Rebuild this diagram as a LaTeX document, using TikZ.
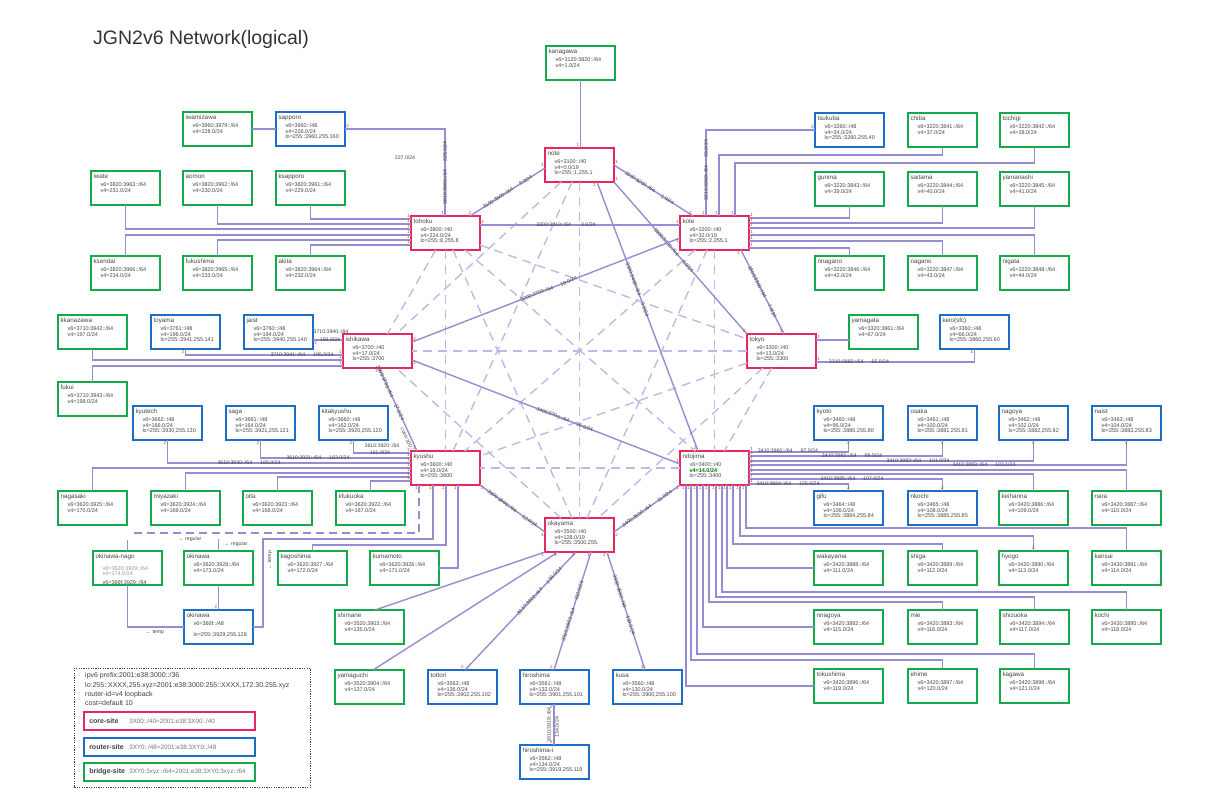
\documentclass[tikz,border=0pt]{standalone}
\usepackage{fontspec}
\setmainfont{Liberation Sans}

\definecolor{corered}{RGB}{232,40,92}
\definecolor{routerblue}{RGB}{30,110,200}
\definecolor{bridgegreen}{RGB}{20,170,75}
\definecolor{linkpurple}{RGB}{150,140,210}
\definecolor{meshpurple}{RGB}{192,184,230}
\definecolor{portred}{RGB}{200,60,60}
\definecolor{txtgray}{RGB}{70,70,70}

% box text: site name, then indented address lines
\newcommand{\sitetxt}[2]{%
  \parbox[t][29pt][t]{64pt}{\fontsize{6.3}{7}\selectfont\strut #1\\[1.3pt]%
  \hspace*{7pt}\parbox[t]{57pt}{\fontsize{5.5}{5.3}\selectfont #2}}}
\newcommand{\keydesc}{\color{black!55}\fontsize{6.3}{7}\selectfont}

\tikzset{
  site/.style={draw, line width=1.5pt, anchor=north west, inner sep=2.5pt, outer sep=0pt, text=txtgray},
  core/.style={site, draw=corered},
  router/.style={site, draw=routerblue},
  bridge/.style={site, draw=bridgegreen},
  link/.style={draw=linkpurple, line width=1.4pt},
  regular/.style={link, dash pattern=on 8pt off 5pt},
  mesh/.style={draw=meshpurple, line width=1.4pt, dash pattern=on 9pt off 6pt},
  lab/.style={font=\fontsize{5.2}{5.2}\selectfont, text=txtgray, inner sep=0.5pt},
  port/.style={font=\fontsize{4.6}{4.6}\selectfont, text=portred, inner sep=0.6pt},
  legtxt/.style={anchor=base west, inner sep=0pt, font=\fontsize{7}{8}\selectfont, text=black!75},
  keybox/.style={draw, line width=1.5pt, anchor=north west, minimum width=171pt, minimum height=18pt,
    text width=160pt, inner xsep=5.5pt, align=left, font=\fontsize{7}{8}\selectfont, text=black!75},
}

\begin{document}
\begin{tikzpicture}[x=1pt, y=-1pt]
\useasboundingbox (0,0) rectangle (1207,795);

\node[anchor=base west, inner sep=0, font=\fontsize{19.5}{20}\selectfont, text=black!80] (title) at (93,44) {JGN2v6 Network(logical)};

% core sites
\node[core] (note)     at (545,148) {\sitetxt{note}{v6=3100::/40\\v4=0.0/19\\lo=255::1,255.1}};
\node[core] (tohoku)   at (411,216) {\sitetxt{tohoku}{v6=3800::/40\\v4=224.0/24\\lo=255::8,255.8}};
\node[core] (kote)     at (680,216) {\sitetxt{kote}{v6=3200::/40\\v4=32.0/19\\lo=255::2,255.1}};
\node[core] (ishikawa) at (343,334) {\sitetxt{ishikawa}{v6=3700::/40\\v4=17.0/24\\lo=255::3700}};
\node[core] (tokyo)    at (747,334) {\sitetxt{tokyo}{v6=3300::/40\\v4=13.0/24\\lo=255::3300}};
\node[core] (kyushu)   at (411,451) {\sitetxt{kyushu}{v6=3600::/40\\v4=16.0/24\\lo=255::3600}};
\node[core] (ndojima)  at (680,451) {\sitetxt{ndojima}{v6=3400::/40\\{\color{green!45!black}\bfseries v4=14.0/24}\\lo=255::3400}};
\node[core] (okayama)  at (545,518) {\sitetxt{okayama}{v6=3500::/40\\v4=128.0/19\\lo=255::3500,255.}};

% router sites
\foreach \nd/\ttl/\px/\py/\vsix/\vfour/\lob in {
    sapporo/sapporo/276/112/3960/226.0/{255::3960,255.160},
    tsukuba/tsukuba/815/113/3260/34.0/{255::3260,255.40},
    toyama/toyama/151/315/3761/196.0/{255::3941,255.141},
    jaist/jaist/244/315/3760/194.0/{255::3940,255.140},
    keio/keio(sfc)/940/315/3360/66.0/{255::3860,255.60},
    kyutech/kyutech/133/406/3662/166.0/{255::3930,255.130},
    saga/saga/226/406/3661/164.0/{255::3921,255.121},
    kitakyushu/kitakyushu/319/406/3660/162.0/{255::3920,255.120},
    kyoto/kyoto/814/406/3460/96.0/{255::3880,255.80},
    osaka/osaka/908/406/3461/100.0/{255::3881,255.81},
    nagoya/nagoya/999/406/3462/102.0/{255::3882,255.82},
    naist/naist/1092/406/3463/104.0/{255::3883,255.83},
    gifu/gifu/814/491/3464/106.0/{255::3884,255.84},
    nkochi/nkochi/908/491/3465/108.0/{255::3885,255.85},
    tottori/tottori/428/670/3563/136.0/{255::3902,255.102},
    hiroshima/hiroshima/520/670/3561/132.0/{255::3901,255.101},
    kusa/kusa/613/670/3560/130.0/{255::3900,255.100},
    hiroshimai/hiroshima-i/520/745/3562/134.0/{255::3919,255.119}}
  \node[router] (\nd) at (\px,\py) {\sitetxt{\ttl}{v6=\vsix::/48\\v4=\vfour/24\\lo=\lob}};
\node[router] (okinawar) at (184,610) {\sitetxt{okinawa}{v6=366f::/48\\[5.3pt]lo=255::3929,255.128}};

% bridge sites
\foreach \nd/\px/\py/\vsix/\vfour in {
    kanagawa/546/46/3120:3820/1.0, iwamizawa/183/112/3960:3979/228.0,
    iwate/91/171/3820:3963/231.0, aomori/183/171/3820:3962/230.0, ksapporo/276/171/3820:3961/229.0,
    ksendai/91/256/3820:3966/234.0, fukushima/183/256/3820:3965/233.0, akita/276/256/3820:3964/232.0,
    chiba/908/113/3220:3841/37.0, tochigi/1000/113/3220:3842/38.0,
    gunma/815/172/3220:3843/39.0, saitama/908/172/3220:3844/40.0, yamanashi/1000/172/3220:3845/41.0,
    nnagano/815/256/3220:3846/42.0, nagano/908/256/3220:3847/43.0, nigata/1000/256/3220:3848/44.0,
    kkanazawa/58/315/3710:3942/197.0, fukui/58/382/3710:3943/198.0, yamagata/849/315/3320:3861/67.0,
    nagasaki/58/491/3620:3925/170.0, miyazaki/151/491/3620:3924/169.0, oita/243/491/3620:3923/168.0,
    kfukuoka/336/491/3620:3922/167.0, okinawa/184/551/3620:3928/173.0, kagoshima/278/551/3620:3927/172.0,
    kumamoto/370/551/3620:3926/171.0, shimane/335/610/3520:3903/135.0, yamaguchi/335/670/3520:3904/137.0,
    keihanna/999/491/3420:3886/109.0, nara/1092/491/3420:3887/110.0,
    wakayama/814/551/3420:3888/111.0, shiga/908/551/3420:3889/112.0, hyogo/999/551/3420:3890/113.0,
    kansai/1092/551/3430:3891/114.0, nnagoya/814/610/3420:3892/115.0, mie/908/610/3420:3893/116.0,
    shizuoka/1000/610/3420:3894/117.0, kochi/1092/610/3430:3895/118.0,
    tokushima/814/669/3420:3896/119.0, ehime/908/669/3420:3897/120.0, kagawa/1000/669/3420:3898/121.0}
  \node[bridge] (\nd) at (\px,\py) {\sitetxt{\nd}{v6=\vsix::/64\\v4=\vfour/24}};
\node[bridge] (okinawanago) at (93,551) {\sitetxt{okinawa-nago}{{\color{black!40}v6=3620:3929::/64}\\{\color{black!40}v4=174.0/24}\\[3pt]v6=366f:3929::/64}};

% logical full mesh between core sites
\foreach \a/\b in {tohoku/tokyo, tohoku/ndojima, tohoku/okayama, tohoku/kyushu, tohoku/ishikawa,
    note/okayama, note/kyushu, note/ishikawa, kote/ndojima, kote/okayama, kote/kyushu,
    tokyo/ndojima, tokyo/okayama, tokyo/kyushu, tokyo/ishikawa, ndojima/kyushu, okayama/ishikawa}
  \draw[mesh] (\a) -- (\b);

% core links
\draw[link] (kanagawa.south) -- (kanagawa.south |- note.north) node[port, at end, anchor=south east]{1};
\draw[link] ([xshift=-10pt]tohoku.north east) node[port, anchor=south]{2} -- ([yshift=-20pt]note.north west)
    node[lab, sloped, pos=.5]{3100:3800::/64\hspace{8pt}9.0/24} node[port, at end, anchor=south east]{1};
\draw[link] ([yshift=-9pt]tohoku.north east) node[port, anchor=south west]{2} -- ([yshift=-9pt]kote.north west) node[port, at end, anchor=south east]{1};
\draw[link] ([yshift=-17pt]note.north east) node[port, anchor=south west]{1} -- ([xshift=13pt]kote.north west)
    node[lab, sloped, pos=.45]{3100:3200::/64\hspace{8pt}1.0/24} node[port, at end, anchor=south east]{2};
\draw[link] (note.south east) node[port, anchor=south west]{1} -- (tokyo.north west)
    node[lab, sloped, pos=.45]{3100:3300::/64\hspace{8pt}5.0/24} node[port, at end, anchor=south east]{2};
\draw[link] ([xshift=52pt]note.south west) node[port, anchor=north east]{1} -- ([xshift=18pt]ndojima.north west)
    node[lab, sloped, pos=.4]{3100:3400::/64\hspace{8pt}3.0/24} node[port, at end, anchor=south east]{2};
\draw[link] ([xshift=-8pt]kote.south east) node[port, anchor=north east]{1} -- ([xshift=37pt]tokyo.north west)
    node[lab, sloped, pos=.5]{3200:3300::/64\hspace{8pt}7.0/24} node[port, at end, anchor=south east]{2};
\draw[link] ([yshift=-22pt]kote.north west) node[port, anchor=north east]{1} -- ([yshift=-8pt]ishikawa.north east)
    node[lab, sloped, pos=.49]{3200:3700::/64\hspace{8pt}19.0/24} node[port, at end, anchor=south west]{2};
\draw[link] ([yshift=-26pt]ishikawa.north east) node[port, anchor=north west]{2} -- ([yshift=-13pt]ndojima.north west)
    node[lab, sloped, pos=.57]{3400:3700::/64\hspace{8pt}16.0/24} node[port, at end, anchor=south east]{1};
\draw[link] ([xshift=36pt]ishikawa.south west) node[port, anchor=north east]{1} -- ([xshift=6pt]kyushu.north west)
    node[lab, sloped, pos=.3]{3600:3700::/64\hspace{8pt}17.0/24} node[lab, sloped, below=1pt, pos=.82]{cost=100}
    node[port, at end, anchor=south east]{2};
\draw[link] (kyushu.south east) node[port, anchor=north west]{2} -- ([yshift=-14pt]okayama.north west)
    node[lab, sloped, pos=.5]{3500:3600::/64\hspace{8pt}12.0/24} node[port, at end, anchor=north east]{1};
\draw[link] ([yshift=-14pt]okayama.north east) node[port, anchor=north west]{2} -- (ndojima.south west)
    node[lab, sloped, pos=.5]{3400:3500::/64\hspace{8pt}11.0/24} node[port, at end, anchor=north east]{1};

% tohoku
\draw[link] (iwamizawa.east) -- (sapporo.west);
\draw[link] (sapporo.east) node[port, anchor=south west]{2} -| ([xshift=34pt]tohoku.north west) node[port, at end, anchor=south east]{1};
\node[lab] (l227) at (405,158) {227.0/24};
\node[lab, rotate=90] (lsapporo) at (445,173) {3810:3960::/64\hspace{8pt}225.0/24};
\foreach \src/\dy in {ksapporo.south/-3pt, aomori.south/-8pt, iwate.south/-13pt,
    ksendai.north/-19pt, fukushima.north/-24pt, akita.north/-29pt}
  \draw[link] (\src) |- ([yshift=\dy]tohoku.north west) node[port, at end, anchor=south east]{1};
\node[lab] (ltohokukote) at (566,225) {3000:3810::/64\hspace{10pt}3.0/24};

% kote
\draw[link] (tsukuba.west) node[port, anchor=south east]{2} -| ([xshift=26pt]kote.north west) node[port, at end, anchor=south east]{1};
\node[lab, rotate=90] (ltsukuba) at (706,170) {3210:3260::/64\hspace{8pt}33.0/24};
\draw[link] (chiba.south) -- ++(0,8) -| ([xshift=39pt]kote.north west) node[port, at end, anchor=south east]{1};
\draw[link] (tochigi.south) -- ++(0,16) -| ([xshift=55pt]kote.north west) node[port, at end, anchor=south east]{1};
\foreach \dy/\dst in {-2pt/gunma.south, -7pt/saitama.south, -12pt/yamanashi.south,
    -19pt/nigata.north, -25pt/nagano.north, -32pt/nnagano.north}
  \draw[link] ([yshift=\dy]kote.north east) node[port, anchor=south west]{1} -| (\dst);

% ishikawa
\draw[link] ([yshift=-25pt]jaist.north east) node[port, anchor=north west]{2} -- ([yshift=-6pt]ishikawa.north west);
\node[lab] (ljaist) at (331,332) {3710:3940::/64};
\node[lab] (ljaist2) at (330,340) {193.0/24};
\draw[link] (toyama.south) node[port, anchor=north east]{2} |- ([yshift=-21pt]ishikawa.north west) node[port, at end, anchor=south east]{1};
\node[lab] (ltoyama) at (302,355) {3710:3941::/64\hspace{8pt}195.0/24};
\draw[link] (kkanazawa.south) |- ([yshift=-26pt]ishikawa.north west) node[port, at end, anchor=south east]{1};
\draw[link] (fukui.north) |- ([yshift=-32pt]ishikawa.north west) node[port, at end, anchor=south east]{1};

% tokyo
\draw[link] ([yshift=-6pt]tokyo.north east) node[port, anchor=south west]{1} -- ([yshift=-25pt]yamagata.north west);
\draw[link] (keio.south) node[port, anchor=north east]{2} |- ([yshift=-28pt]tokyo.north east) node[port, at end, anchor=south west]{1};
\node[lab] (lkeio) at (859,362) {3310:3860::/64\hspace{8pt}65.0/24};

% kyushu
\foreach \src/\dy/\p in {kitakyushu.south/-2pt/2, saga.south/-7pt/2, kyutech.south/-12pt/2, nagasaki.north/-17pt/{},
    miyazaki.north/-22pt/{}, oita.north/-26pt/{}, kfukuoka.north/-30pt/{}}
  \draw[link] (\src) node[port, anchor=north east]{\p} |- ([yshift=\dy]kyushu.north west) node[port, at end, anchor=south east]{1};
\node[lab] (lkita) at (382,446) {3610:3920::/64};
\node[lab] (lkita2) at (380,453) {161.0/24};
\node[lab] (lsaga) at (318,458) {3610:3921::/64\hspace{8pt}163.0/24};
\node[lab] (lkyutech) at (249,463) {3610:3930::/64\hspace{8pt}165.0/24};
% okinawa: regular (dashed) and temp paths
\coordinate (regend) at (132,533);
\coordinate (nagostub) at (127.5,540);
\coordinate (okistub) at (218.5,539);
\coordinate (tempjoin) at (263,539);
\draw[regular] ([xshift=8pt]kyushu.south west) node[port, anchor=north east]{1} |- (regend);
\draw[link] (nagostub) -- (okinawanago.north);
\draw[link] (okistub) -- (okinawa.north);
\draw[link] ([xshift=22pt]kyushu.south west) node[port, anchor=north east]{1} |- (tempjoin) |- (okinawar.east);
\draw[link] ([xshift=35pt]kyushu.south west) node[port, anchor=north east]{1} -- ++(0,60) -| (kagoshima.north);
\draw[link] ([xshift=47pt]kyushu.south west) node[port, anchor=north east]{1} |- (kumamoto.east);
\draw[link] (okinawa.south) -- (okinawar.north) node[port, at end, anchor=south east]{2};
\draw[link] (okinawanago.south) |- (okinawar.west);
\node[lab] (lreg1) at (190,539) {← regular};
\node[lab] (lreg2) at (236,544) {← regular};
\node[lab] (ltemp1) at (155,632) {← temp};
\node[lab, rotate=90] (ltemp2) at (270,560) {← temp};

% okayama
\foreach \dx/\dst/\ex in {0pt/shimane/40pt, 13pt/yamaguchi/38pt}
  \draw[link] ([xshift=\dx]okayama.south west) node[port, anchor=north east]{1} -- ([xshift=\ex]\dst.north west);
\draw[link] ([xshift=31pt]okayama.south west) node[port, anchor=north east]{1} -- ([xshift=37pt]tottori.north west)
    node[lab, sloped, pos=.33]{3510:3902::/64\hspace{8pt}136.0/24} node[port, at end, anchor=south east]{2};
\draw[link] ([xshift=46pt]okayama.south west) node[port, anchor=north east]{1} -- ([xshift=34pt]hiroshima.north west)
    node[lab, sloped, pos=.5]{3510:3901::/64\hspace{8pt}132.0/24} node[port, at end, anchor=south east]{2};
\draw[link] ([xshift=62pt]okayama.south west) node[port, anchor=north east]{1} -- ([xshift=32pt]kusa.north west)
    node[lab, sloped, pos=.45]{3500:3560::/64\hspace{8pt}130.0/24} node[port, at end, anchor=south east]{2};
\draw[link] ([xshift=34pt]hiroshima.south west) node[port, anchor=north east]{2} -- ([xshift=34pt]hiroshimai.north west) node[port, at end, anchor=south east]{2};
\node[lab, rotate=90] (lhiro1) at (549,725) {3910:3919::/64};
\node[lab, rotate=90] (lhiro2) at (557,727) {134.0/24};

% ndojima
\foreach \dy/\dst/\p/\an in {-1pt/kyoto.south/2/north, -5pt/osaka.south/2/north, -10pt/nagoya.south/2/north,
    -14pt/naist.south/2/north, -19pt/nara.north/{}/south, -23pt/keihanna.north/{}/south,
    -28pt/nkochi.north/2/south, -33pt/gifu.north/2/south}
  \draw[link] ([yshift=\dy]ndojima.north east) node[port, anchor=south west]{1} -| (\dst) node[port, at end, anchor=\an]{\p};
\node[lab] (lkyoto) at (788,451) {3410:3860::/64\hspace{8pt}97.0/24};
\node[lab] (losaka) at (852,456) {3410:3881::/64\hspace{8pt}99.0/24};
\node[lab] (lnagoya) at (918,461) {3410:3882::/64\hspace{8pt}101.0/24};
\node[lab] (lnaist) at (984,465) {3410:3883::/64\hspace{8pt}103.1/24};
\node[lab] (lnkochi) at (852,479) {3410:3885::/64\hspace{8pt}107.0/24};
\node[lab] (lgifu) at (788,484) {3410:3884::/64\hspace{8pt}105.0/24};
\foreach \dx/\dst in {6pt/tokushima, 23pt/nnagoya, 47pt/wakayama}
  \draw[link] ([xshift=\dx]ndojima.south west) node[port, anchor=north east]{1} |- (\dst.west);
\foreach \dx/\dy/\dst/\p in {11pt/175/ehime/{}, 17pt/169/kagawa/{}, 29pt/117/mie/{}, 36pt/112/shizuoka/{},
    42pt/107/kochi/{}, 53pt/59/shiga/{}, 60pt/51/hyogo/2, 66pt/43/kansai/{}}
  \draw[link] ([xshift=\dx]ndojima.south west) node[port, anchor=north east]{1} -- ++(0,\dy) -| (\dst.north)
    node[port, at end, anchor=south]{\p};

% legend
\node[draw=black!75, dash pattern=on 1.2pt off 1.2pt, line width=0.9pt, anchor=north west,
    minimum width=236pt, minimum height=119pt, inner sep=0pt] (legend) at (74,668) {};
\node[legtxt] (leg1) at (85,677.5) {ipv6 prefix:2001:e38:3000::/36};
\node[legtxt] (leg2) at (85,687) {lo:255::XXXX,255.xyz=2001:e38:3000:255::XXXX,172.30.255.xyz};
\node[legtxt] (leg3) at (85,696.5) {router-id=v4 loopback};
\node[legtxt] (leg4) at (85,705.5) {cost=default 10};
\node[keybox, draw=corered] (keycore) at (83,711) {\makebox[40pt][l]{\bfseries core-site}{\keydesc 3X00::/40=2001:e38:3X00::/40}};
\node[keybox, draw=routerblue] (keyrouter) at (83,737) {\makebox[40pt][l]{\bfseries router-site}{\keydesc 3XY0::/48=2001:e38:3XY0::/48}};
\node[keybox, draw=bridgegreen] (keybridge) at (83,762) {\makebox[40pt][l]{\bfseries bridge-site}{\keydesc 3XY0:3xyz::/64=2001:e38:3XY0:3xyz::/64}};
\end{tikzpicture}
\end{document}
